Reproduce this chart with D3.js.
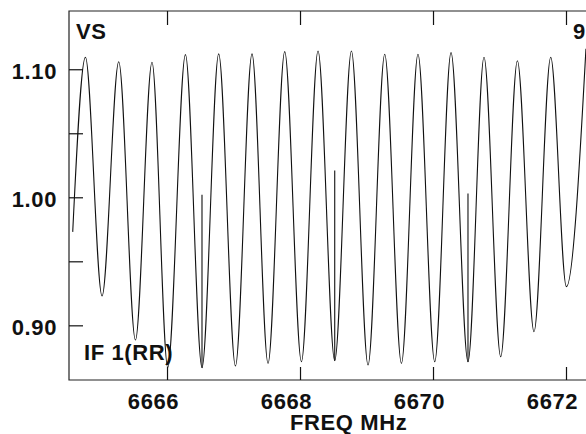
<!DOCTYPE html>
<html>
<head>
<meta charset="utf-8">
<script src="https://cdn.jsdelivr.net/npm/d3@7"></script>
<style>
  body { margin: 0; background: #fff; }
  svg { display: block; }
  text { font-family: "Liberation Sans", Arial, sans-serif; font-weight: bold; letter-spacing: 0.6px; }
</style>
</head>
<body>
<script>
// values
let startPoint = [6664.582, 0.973];
let endPoint = [6672.30, 1.116];

let peakFreq = [6664.773, 6665.274, 6665.774, 6666.277, 6666.777, 6667.278, 6667.770, 6668.271,
    6668.773, 6669.274, 6669.774, 6670.271, 6670.767, 6671.269, 6671.770];
let peakVal = [1.1094, 1.1059, 1.1055, 1.1114, 1.1120, 1.1120, 1.1138, 1.1143,
    1.1143, 1.1117, 1.1117, 1.1130, 1.1094, 1.1067, 1.1094];

let troughFreq = [6665.023, 6665.525, 6666.011, 6666.526, 6667.029, 6667.519, 6668.021, 6668.522,
    6669.023, 6669.525, 6670.026, 6670.526, 6671.018, 6671.519, 6672.006];
let troughVal = [0.9229, 0.8885, 0.8670, 0.8669, 0.8682, 0.8703, 0.8716, 0.8724,
    0.8690, 0.8703, 0.8716, 0.8716, 0.8755, 0.8950, 0.9302];

// narrow interference spikes standing up from three of the troughs
let spikeFreq = [6666.526, 6668.522, 6670.526];
let spikeTop = [1.002, 1.021, 1.003];
let spikeBase = [0.8669, 0.8724, 0.8716];

let xTicks = [6666, 6668, 6670, 6672];
let yTicks = [0.90, 0.95, 1.00, 1.05, 1.10];
let yLabels = [0.90, 1.00, 1.10];

let size = {width: 586, height: 434};
let plot = {left: 69, top: 11, right: 619, bottom: 380};

let svg = d3.select("body").append("svg")
    .attr("width", size.width)
    .attr("height", size.height);

let x = d3.scaleLinear()
    .domain([6664.526, 6672.797])
    .range([plot.left, plot.right]);

let y = d3.scaleLinear()
    .domain([0.8573, 1.1455])
    .range([plot.bottom, plot.top]);

let data = [startPoint];
peakFreq.forEach((f, i) => {
    data.push([f, peakVal[i]]);
    data.push([troughFreq[i], troughVal[i]]);
});
data.push(endPoint);

let line = d3.line()
    .x(d => x(d[0]))
    .y(d => y(d[1]))
    .curve(d3.curveMonotoneX);

svg.append("path")
    .datum(data)
    .attr("fill", "none")
    .attr("stroke", "#111")
    .attr("stroke-width", 1.1)
    .attr("stroke-linejoin", "round")
    .attr("d", line);

svg.append("g")
    .selectAll("line")
    .data(spikeFreq)
    .join("line")
    .attr("x1", d => x(d))
    .attr("x2", d => x(d))
    .attr("y1", (d, i) => y(spikeBase[i]))
    .attr("y2", (d, i) => y(spikeTop[i]))
    .attr("stroke", "#111")
    .attr("stroke-width", 1.1);

// frame
svg.append("path")
    .attr("fill", "none")
    .attr("stroke", "#222")
    .attr("stroke-width", 1.2)
    .attr("d", `M${plot.right},${plot.top}H${plot.left}V${plot.bottom}H${plot.right}`);

let xAxis = g => g
    .attr("transform", `translate(0,${plot.bottom})`)
    .call(d3.axisBottom(x).tickValues(xTicks).tickSize(-13).tickPadding(13).tickFormat(d3.format("d")))
    .call(g => g.select(".domain").remove())
    .call(g => g.selectAll("text").attr("dx", -14));

let xTop = g => g
    .attr("transform", `translate(0,${plot.top})`)
    .call(d3.axisTop(x).tickValues(xTicks).tickSize(-14).tickFormat(""))
    .call(g => g.select(".domain").remove());

let yAxis = g => g
    .attr("transform", `translate(${plot.left},0)`)
    .call(d3.axisLeft(y).tickValues(yTicks).tickSize(-14).tickPadding(12)
        .tickFormat(d => yLabels.some(v => Math.abs(v - d) < 1e-9) ? d.toFixed(2) : ""))
    .call(g => g.select(".domain").remove())
    .call(g => g.selectAll("text").attr("dy", 9));

[xAxis, xTop, yAxis].forEach(a => {
    svg.append("g")
        .call(a)
        .call(g => g.attr("font-size", 22).attr("font-family", null))
        .call(g => g.selectAll("line").attr("stroke", "#111").attr("stroke-width", 1.2))
        .call(g => g.selectAll("text").attr("fill", "#111"));
});

svg.append("text")
    .attr("x", 290)
    .attr("y", 430)
    .attr("font-size", 22)
    .attr("fill", "#111")
    .text("FREQ MHz");

svg.append("text")
    .attr("x", 76)
    .attr("y", 39)
    .attr("font-size", 22)
    .attr("fill", "#111")
    .text("VS");

svg.append("text")
    .attr("x", 84)
    .attr("y", 360)
    .attr("font-size", 22)
    .attr("fill", "#111")
    .text("IF 1(RR)");

svg.append("text")
    .attr("x", 573)
    .attr("y", 39)
    .attr("font-size", 22)
    .attr("fill", "#111")
    .text("9");
</script>
</body>
</html>
